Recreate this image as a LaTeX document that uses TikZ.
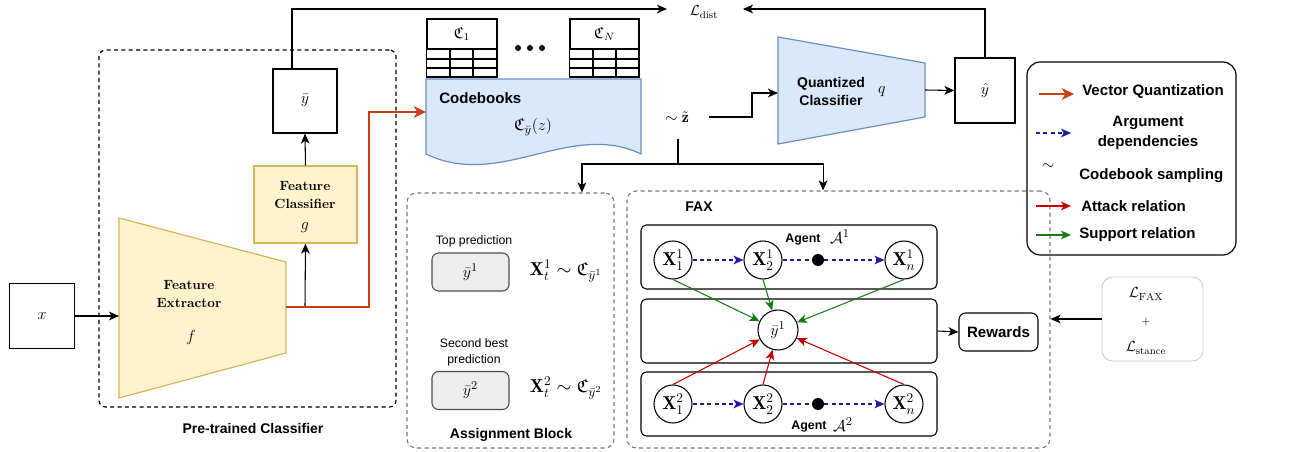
\documentclass[tikz,border=0pt]{standalone}
\usepackage{amsmath,amssymb}
\usepackage{fontspec}
\setsansfont{Liberation Sans}
\usetikzlibrary{arrows.meta,calc}
\definecolor{fefill}{HTML}{FFF2CC}
\definecolor{fedraw}{HTML}{D6B656}
\definecolor{cbfill}{HTML}{DAE8FC}
\definecolor{cbdraw}{HTML}{6C8EBF}
\definecolor{vqred}{HTML}{CC3D12}
\definecolor{atkred}{HTML}{C40000}
\definecolor{supgreen}{HTML}{1A7A1A}
\definecolor{depblue}{HTML}{1C1C9C}
\definecolor{dgray}{HTML}{777777}
\definecolor{pfill}{HTML}{EEEEEE}
\begin{document}
\begin{tikzpicture}[x=0.75pt,y=-0.75pt,
  tip/.style={-{Stealth[length=7.5pt,width=6.5pt,inset=2pt]}},
  arr/.style={draw=black,line width=0.8pt,tip},
  vq/.style={draw=vqred,line width=2.2pt,-{Stealth[length=9pt,width=8.5pt,inset=2.5pt]}},
  dep/.style={draw=depblue,line width=0.8pt,dash pattern=on 3pt off 2.5pt,-{Stealth[length=7.5pt,width=6.5pt,inset=2pt,fill=depblue]}},
  atk/.style={draw=atkred,line width=0.8pt,tip},
  sup/.style={draw=supgreen,line width=0.8pt,tip},
  sqbox/.style={draw=black,line width=0.9pt,inner sep=0pt,font=\fontsize{12}{14}\selectfont},
  dbox/.style={draw=black,dash pattern=on 3pt off 2.5pt,line width=0.9pt,rounded corners=5pt,inner sep=0pt},
  gbox/.style={draw=dgray,dash pattern=on 3pt off 2.5pt,line width=0.8pt,rounded corners=7pt,inner sep=0pt},
  abox/.style={draw=black,line width=0.8pt,rounded corners=4pt,minimum width=222pt,minimum height=48pt,inner sep=0pt},
  cn/.style={circle,draw=black,line width=0.8pt,fill=white,minimum size=28.5pt,inner sep=0pt,font=\fontsize{14}{16}\selectfont},
  dotn/.style={circle,fill=black,minimum size=9pt,inner sep=0pt},
  lbl/.style={font=\sffamily\bfseries\fontsize{10.5}{13.5}\selectfont,inner sep=0pt,align=center},
  lgd/.style={font=\sffamily\bfseries\fontsize{11.3}{15}\selectfont,inner sep=0pt,align=center},
  agl/.style={font=\sffamily\bfseries\fontsize{9.3}{11}\selectfont,inner sep=0pt},
  sm/.style={font=\sffamily\fontsize{9.2}{12}\selectfont,inner sep=0pt,align=center},
  serb/.style={font=\rmfamily\bfseries\fontsize{10}{13.5}\selectfont,inner sep=0pt,align=center},
  pbox/.style={draw=black!70,fill=pfill,line width=0.8pt,rounded corners=5pt,minimum width=57.75pt,minimum height=28.5pt,inner sep=0pt,font=\fontsize{12.5}{14}\selectfont},
  tbl/.style={draw=black,line width=0.9pt}
]
\useasboundingbox (0,0) rectangle (1293,452);

% ---------- Pre-trained classifier ----------
\node[dbox,minimum width=222.75pt,minimum height=267.75pt] (pre) at (247.5,228.5) {};
\node[lbl] (prel) at (253,428) {Pre-trained Classifier};

\node[sqbox,minimum width=48.75pt,minimum height=48.75pt] (xbox) at (42,316) {$x$};

\draw[fill=fefill,draw=fedraw,line width=0.9pt] (119,218) -- (286,262) -- (286,353) -- (119,398) -- cycle;
\coordinate (fein) at (119,316);
\coordinate (feout) at (286,307);
\coordinate (split) at (305,307);
\node[serb] (fet) at (189,294) {Feature\\Extractor};
\node[font=\fontsize{12.5}{14}\selectfont] (fef) at (191,338) {$f$};

\node[draw=fedraw,fill=fefill,line width=0.9pt,minimum width=77.25pt,minimum height=57.75pt,inner sep=0pt] (fcls) at (305.5,204.5) {};
\node[serb] (fct) at (305,195) {Feature\\Classifier};
\node[font=\fontsize{12.5}{14}\selectfont] (fcg) at (305,228) {$g$};

\node[sqbox,minimum width=48pt,minimum height=48pt] (ybar) at (305,101) {$\bar{y}$};

\draw[arr] (xbox.east) -- (fein);
\draw[arr] (split) -- (fcls.south);
\draw[arr] (fcls.north) -- (ybar.south);

% ---------- codebooks ----------
\node[tbl,minimum width=52.5pt,minimum height=22.5pt,inner sep=0pt,font=\fontsize{12}{14}\selectfont] (c1) at (462,34) {$\mathfrak{C}_1$};
\draw[tbl] (c1.south west) rectangle (497,77);
\draw[tbl] (427,59) -- (497,59) (427,68) -- (497,68) (450,49) -- (450,77) (473,49) -- (473,77);
\node[tbl,minimum width=51.75pt,minimum height=22.5pt,inner sep=0pt,font=\fontsize{12}{14}\selectfont] (cn) at (604.5,34) {$\mathfrak{C}_N$};
\draw[tbl] (cn.south west) rectangle (639,77);
\draw[tbl] (570,59) -- (639,59) (570,68) -- (639,68) (593,49) -- (593,77) (616,49) -- (616,77);
\node[dotn,minimum size=4.5pt] (dt1) at (518,48) {};
\node[dotn,minimum size=4.5pt] (dt2) at (530,48) {};
\node[dotn,minimum size=4.5pt] (dt3) at (542,48) {};

\draw[fill=cbfill,draw=cbdraw,line width=0.9pt] (426,79) -- (641,79) -- (641,154) .. controls (570,120) and (500,190) .. (426,154) -- cycle;
\coordinate (cbin) at (426,112);
\node[font=\sffamily\bfseries\fontsize{11.3}{13}\selectfont,anchor=west,inner sep=0pt] (cbt) at (439,98) {Codebooks};
\node[font=\fontsize{13}{15}\selectfont] (cbm) at (533,127) {$\mathfrak{C}_{\bar{y}}(z)$};

\draw[vq] (feout) -- (369,307) -- (369,112) -- (cbin);

% ---------- sampling ----------
\node[font=\fontsize{12}{14}\selectfont] (zt) at (677,117) {$\sim\tilde{\mathbf{z}}$};
\coordinate (zout) at (709,117);
\coordinate (zdn) at (678,139);
\coordinate (zbr) at (678,164);

% ---------- quantized classifier ----------
\draw[fill=cbfill,draw=cbdraw,line width=0.9pt] (778,37) -- (925,63) -- (925,117) -- (778,144) -- cycle;
\coordinate (qin) at (778,93);
\coordinate (qout) at (925,90);
\node[lbl] (qct) at (831,91) {Quantized\\Classifier};
\node[font=\fontsize{12.5}{14}\selectfont] (qq) at (882,92) {$q$};
\node[sqbox,minimum width=45pt,minimum height=48.75pt] (yhat) at (985,90.5) {$\hat{y}$};

\draw[arr] (zout) -- (752,117) |- (qin);
\draw[arr] (qout) -- (yhat.west);

% ---------- L_dist ----------
\coordinate (ldl) at (667,9);
\coordinate (ldr) at (743,9);
\node[font=\fontsize{11}{13}\selectfont] (ld) at (704,12) {$\mathcal{L}_{\mathrm{dist}}$};
\draw[arr] ([xshift=-9.75pt]ybar.north) |- (ldl);
\draw[arr] (yhat.north) |- (ldr);

% ---------- assignment block ----------
\node[gbox,minimum width=155.25pt,minimum height=191.25pt] (asg) at (510.5,320.5) {};
\node[sm] (tp) at (474,241) {Top prediction};
\node[pbox] (p1) at (470.5,272) {$\bar{y}^1$};
\node[font=\fontsize{14}{16}\selectfont] (a1) at (566,271) {$\mathbf{X}^1_t\sim\mathfrak{C}_{\bar{y}^1}$};
\node[sm] (sb) at (474,352) {Second best\\prediction};
\node[pbox] (p2) at (470.5,390.5) {$\bar{y}^2$};
\node[font=\fontsize{14}{16}\selectfont] (a2) at (566,388) {$\mathbf{X}^2_t\sim\mathfrak{C}_{\bar{y}^2}$};
\node[lbl] (asgl) at (511,435) {Assignment Block};

% ---------- FAX ----------
\node[gbox,minimum width=317.25pt,minimum height=192.75pt] (fax) at (838.5,319.5) {};
\node[lbl] (faxl) at (699,207) {FAX};
\node[abox] (ag1) at (789,257) {};
\node[abox] (mid) at (789,331) {};
\node[abox] (ag2) at (789,404) {};

\node[cn] (x11) at (673,260) {$\mathbf{X}^1_1$};
\node[cn] (x21) at (763,260) {$\mathbf{X}^1_2$};
\node[cn] (xn1) at (904,260) {$\mathbf{X}^1_n$};
\node[dotn] (d1) at (818,260) {};
\node[agl] (ag1t) at (803,240) {Agent};
\node[font=\fontsize{13}{15}\selectfont,inner sep=0pt] (ag1a) at (840,237) {$\mathcal{A}^1$};

\node[cn] (x12) at (673,404) {$\mathbf{X}^2_1$};
\node[cn] (x22) at (763,404) {$\mathbf{X}^2_2$};
\node[cn] (xn2) at (904,404) {$\mathbf{X}^2_n$};
\node[dotn] (d2) at (818,404) {};
\node[agl] (ag2t) at (809,427) {Agent};
\node[font=\fontsize{13}{15}\selectfont,inner sep=0pt] (ag2a) at (843,425) {$\mathcal{A}^2$};

\node[cn,minimum size=30pt,font=\fontsize{13}{15}\selectfont] (yb1) at (778,330) {$\bar{y}^1$};

\draw[dep] (x11) -- (x21);
\draw[dep,-] (x21) -- (d1);
\draw[dep] (d1) -- (xn1);
\draw[dep] (x12) -- (x22);
\draw[dep,-] (x22) -- (d2);
\draw[dep] (d2) -- (xn2);

\draw[sup] (x11.south) -- (yb1);
\draw[sup] (x21.south) -- (yb1);
\draw[sup] (xn1.south) -- (yb1);
\draw[atk] (x12.north) -- (yb1);
\draw[atk] (x22.north) -- (yb1);
\draw[atk] (xn2.north) -- (yb1);

\node[draw=black,line width=0.8pt,rounded corners=5pt,minimum width=59.25pt,minimum height=28.5pt,inner sep=0pt,font=\sffamily\bfseries\fontsize{11.3}{13}\selectfont] (rew) at (998.5,332) {Rewards};
\draw[arr] (mid.east) -- (rew.west);

\draw[arr] (zdn) -- (zbr) -| ([xshift=53.6pt]asg.north);
\draw[arr] (zbr) -| ([xshift=-11.6pt]fax.north);

% ---------- losses ----------
\node[draw=black!22,line width=0.6pt,rounded corners=8pt,minimum width=75.75pt,minimum height=63pt,inner sep=0pt] (loss) at (1152.5,319) {};
\node[font=\fontsize{11}{13}\selectfont] (lf) at (1146,294) {$\mathcal{L}_{\mathrm{FAX}}$};
\node[font=\fontsize{8}{10}\selectfont] (lp) at (1146,322) {$+$};
\node[font=\fontsize{11}{13}\selectfont] (ls) at (1146,348) {$\mathcal{L}_{\mathrm{stance}}$};
\draw[arr] (loss.west) -- (loss.west -| fax.east);

% ---------- legend ----------
\node[draw=black,line width=0.9pt,rounded corners=10pt,minimum width=156.75pt,minimum height=144.75pt,inner sep=0pt] (leg) at (1131.5,158.5) {};
\coordinate (l1a) at (1039,94); \coordinate (l1b) at (1074,94);
\draw[vq] (l1a) -- (l1b);
\node[lgd,anchor=west] (l1t) at (1082,92) {Vector Quantization};
\coordinate (l2a) at (1036,133); \coordinate (l2b) at (1071,133);
\draw[dep] (l2a) -- (l2b);
\node[lgd] (l2t) at (1148,133) {Argument\\dependencies};
\node[font=\fontsize{12}{14}\selectfont] (l3s) at (1048,167) {$\sim$};
\node[lgd,anchor=west] (l3t) at (1079,176) {Codebook sampling};
\coordinate (l4a) at (1036,206); \coordinate (l4b) at (1071,206);
\draw[atk] (l4a) -- (l4b);
\node[lgd,anchor=west] (l4t) at (1081,206) {Attack relation};
\coordinate (l5a) at (1036,235); \coordinate (l5b) at (1071,235);
\draw[sup] (l5a) -- (l5b);
\node[lgd,anchor=west] (l5t) at (1079,235) {Support relation};
\end{tikzpicture}
\end{document}
